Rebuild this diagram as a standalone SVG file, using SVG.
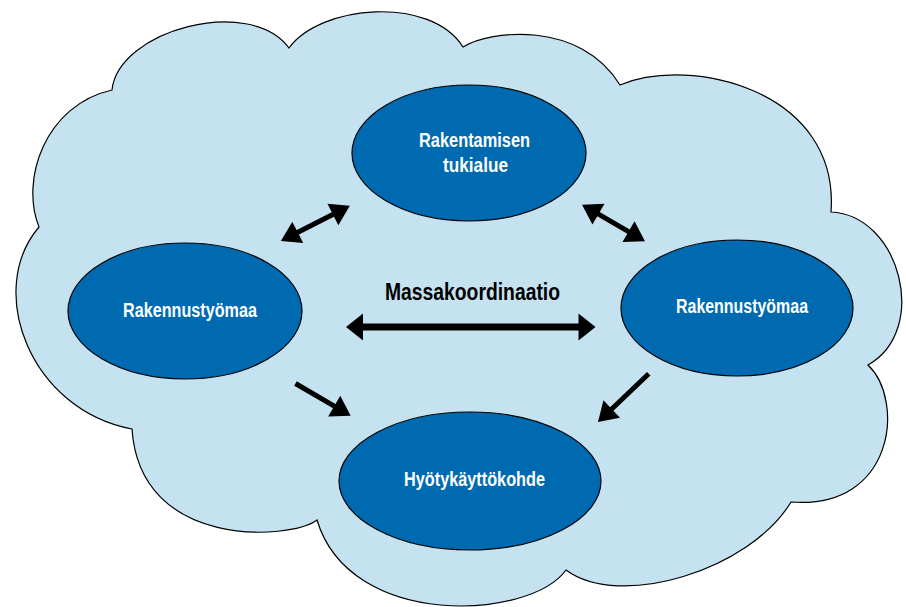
<svg xmlns="http://www.w3.org/2000/svg" width="906" height="607" viewBox="0 0 906 607">
<style>
.cloud{fill:#c5e2f0;stroke:#000;stroke-width:1.2}
.node{fill:#006ab0;stroke:#000;stroke-width:1.2}
.lbl{font-family:"Liberation Sans",Arial,sans-serif;font-weight:bold;font-size:20px;fill:#fff;text-anchor:middle}
.title{font-family:"Liberation Sans",Arial,sans-serif;font-weight:bold;font-size:23px;fill:#000;text-anchor:middle}
.diag{stroke:#000;stroke-width:5;fill:none}
.horiz{stroke:#000;stroke-width:7;fill:none}
</style>
<defs>
<marker id="hd" markerUnits="userSpaceOnUse" markerWidth="20" markerHeight="24" refX="1" refY="12" orient="auto-start-reverse" overflow="visible"><path d="M0,0 L19,12 L0,24 z" fill="#000"/></marker>
<marker id="hh" markerUnits="userSpaceOnUse" markerWidth="18" markerHeight="27" refX="1" refY="13.5" orient="auto-start-reverse" overflow="visible"><path d="M0,0 L17,13.5 L0,27 z" fill="#000"/></marker>
</defs>
<rect width="906" height="607" fill="#fff"/>
<path class="cloud" d="M112,90 C118,30 250,-5 289,48 C320,5 430,-5 463,47 C490,30 580,20 620,85 C690,55 840,90 831,212 C900,215 930,330 868,365 C905,400 895,510 791,502 C750,570 620,610 566,570 C530,620 350,630 317,520 C290,540 140,550 132,429 C30,410 -15,290 39,227 C20,180 45,105 112,90 Z"/>
<g id="connectors">
<line class="diag" x1="296.9" y1="232.8" x2="333.8" y2="214.0" marker-start="url(#hd)" marker-end="url(#hd)"/>
<line class="diag" x1="597.6" y1="213.7" x2="629.4" y2="232.2" marker-start="url(#hd)" marker-end="url(#hd)"/>
<line class="diag" x1="295.5" y1="383.5" x2="335.1" y2="406.7" marker-end="url(#hd)"/>
<line class="diag" x1="648.7" y1="373.8" x2="611.0" y2="409.7" marker-end="url(#hd)"/>
<line class="horiz" x1="362" y1="327" x2="579.5" y2="327" marker-start="url(#hh)" marker-end="url(#hh)"/>
<text class="title" x="472.5" y="300" textLength="175" lengthAdjust="spacingAndGlyphs">Massakoordinaatio</text>
</g>
<g id="tukialue">
<ellipse class="node" cx="469" cy="153" rx="117" ry="68"/>
<text class="lbl" x="474.5" y="147" textLength="111" lengthAdjust="spacingAndGlyphs">Rakentamisen</text>
<text class="lbl" x="475.5" y="172" textLength="65" lengthAdjust="spacingAndGlyphs">tukialue</text>
</g>
<g id="tyomaa-left">
<ellipse class="node" cx="185" cy="311" rx="117" ry="68"/>
<text class="lbl" x="190" y="317" textLength="134" lengthAdjust="spacingAndGlyphs">Rakennustyömaa</text>
</g>
<g id="tyomaa-right">
<ellipse class="node" cx="737" cy="308" rx="116" ry="68"/>
<text class="lbl" x="742" y="313" textLength="132" lengthAdjust="spacingAndGlyphs">Rakennustyömaa</text>
</g>
<g id="hyotykayttokohde">
<ellipse class="node" cx="470" cy="481" rx="131" ry="69"/>
<text class="lbl" x="474.5" y="486" textLength="141" lengthAdjust="spacingAndGlyphs">Hyötykäyttökohde</text>
</g>
</svg>
